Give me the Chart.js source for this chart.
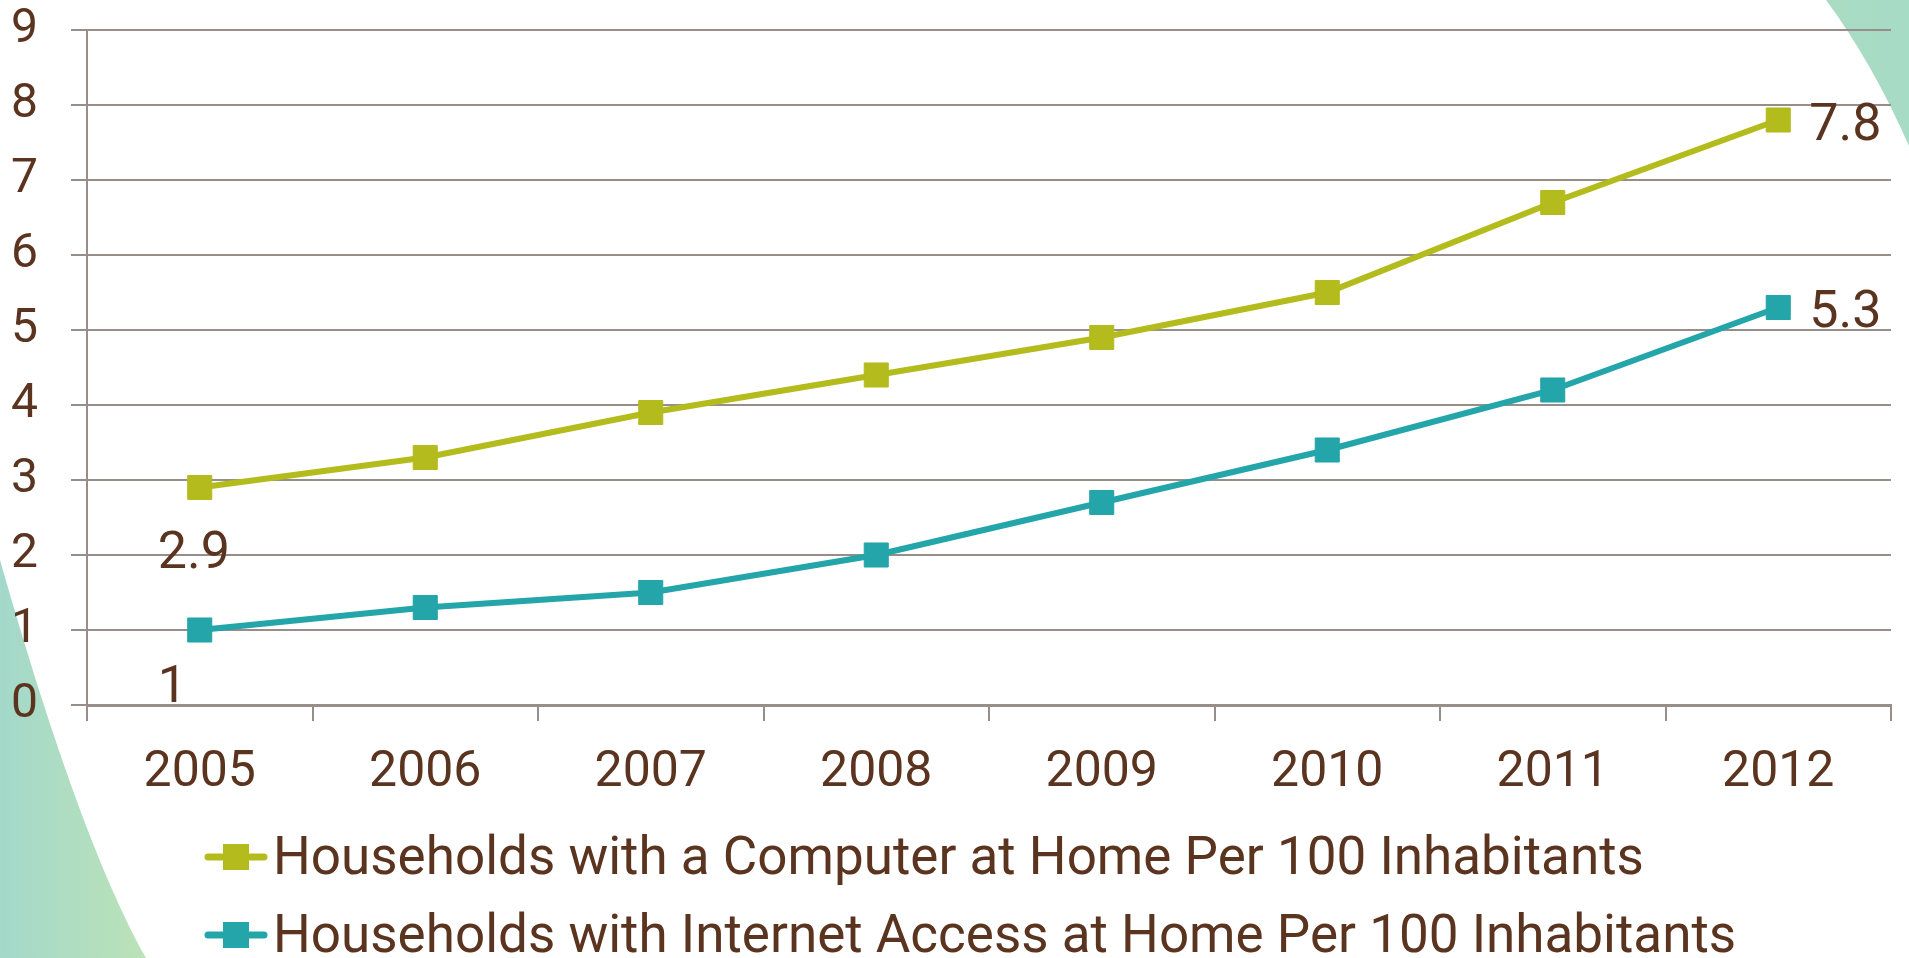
<!DOCTYPE html>
<html>
<head>
<meta charset="utf-8">
<title>Households with a Computer / Internet Access at Home</title>
<script src="https://cdn.jsdelivr.net/npm/chart.js@4.4.1/dist/chart.umd.min.js"></script>
<style>
  html, body { margin: 0; padding: 0; background: #fff; }
  #wrap { position: relative; width: 1909px; height: 958px; }
</style>
</head>
<body>
<div id="wrap"><canvas id="households"></canvas></div>
<script>
/* Households with a computer / internet access at home, per 100 inhabitants */
const years = ["2005", "2006", "2007", "2008", "2009", "2010", "2011", "2012"];
const computerAtHome = [2.9, 3.3, 3.9, 4.4, 4.9, 5.5, 6.7, 7.8];
const internetAtHome = [1, 1.3, 1.5, 2.0, 2.7, 3.4, 4.2, 5.3];
const seriesNames = [
  "Households with a Computer at Home Per 100 Inhabitants",
  "Households with Internet Access at Home Per 100 Inhabitants"
];
const yMin = 0, yMax = 9, yStep = 1;

const INK = "#5b3420";
const GRID = "#978e89";
const OLIVE = "#b3bc1c";
const TEAL = "#24a5aa";
const FONT = "Roboto";

Chart.defaults.font.family = FONT;
Chart.defaults.color = INK;

// slide decoration: soft green swooshes in the corners
const backdrop = {
  id: "backdrop",
  beforeDraw(chart) {
    const { ctx, width, height } = chart;
    ctx.save();
    let g = ctx.createLinearGradient(0, 0, 150, 0);
    g.addColorStop(0, "#a3d8ca");
    g.addColorStop(1, "#bce3b7");
    ctx.fillStyle = g;
    ctx.beginPath();
    ctx.moveTo(0, 560);
    ctx.bezierCurveTo(40, 700, 92, 862, 146, height);
    ctx.lineTo(0, height);
    ctx.closePath();
    ctx.fill();

    g = ctx.createLinearGradient(1820, 0, width, 0);
    g.addColorStop(0, "#aadcc2");
    g.addColorStop(1, "#a6dbc6");
    ctx.fillStyle = g;
    ctx.beginPath();
    ctx.moveTo(1826, 0);
    ctx.quadraticCurveTo(1872, 62, width, 146);
    ctx.lineTo(width, 0);
    ctx.closePath();
    ctx.fill();
    ctx.restore();
  }
};

// value labels on the first and last point of each line
const endLabels = {
  id: "endLabels",
  afterDatasetsDraw(chart) {
    const { ctx } = chart;
    const place = [
      { first: { dx: -42, dy: 80 }, last: { dx: 31, dy: 20 } },
      { first: { dx: -42, dy: 72 }, last: { dx: 31, dy: 19 } }
    ];
    ctx.save();
    ctx.font = "52px " + FONT;
    ctx.fillStyle = INK;
    ctx.textAlign = "left";
    ctx.textBaseline = "alphabetic";
    chart.data.datasets.forEach((ds, i) => {
      const pts = chart.getDatasetMeta(i).data;
      const n = ds.data.length - 1;
      [[0, place[i].first], [n, place[i].last]].forEach(([k, off]) => {
        ctx.fillText(String(ds.data[k]), pts[k].x + off.dx, pts[k].y + off.dy);
      });
    });
    ctx.restore();
  }
};

// legend rows: line with a square marker, then the series name
const lineLegend = {
  id: "lineLegend",
  afterDraw(chart) {
    const { ctx } = chart;
    ctx.save();
    chart.data.datasets.forEach((ds, i) => {
      const y = 857 + i * 78;
      ctx.strokeStyle = ds.borderColor;
      ctx.lineWidth = 7;
      ctx.lineCap = "round";
      ctx.beginPath();
      ctx.moveTo(208, y);
      ctx.lineTo(264, y);
      ctx.stroke();
      ctx.fillStyle = ds.borderColor;
      ctx.fillRect(223, y - 13, 26, 26);
      ctx.fillStyle = INK;
      ctx.font = "53px " + FONT;
      ctx.textBaseline = "alphabetic";
      ctx.fillText(ds.label, 273, y + 17);
    });
    ctx.restore();
  }
};

const series = (label, data, color) => ({
  label, data,
  borderColor: color, backgroundColor: color,
  borderWidth: 6, tension: 0,
  pointStyle: "rect", pointRadius: 17, pointBorderWidth: 1,
  pointBackgroundColor: color, pointBorderColor: color
});

new Chart(document.getElementById("households"), {
  type: "line",
  data: {
    labels: years,
    datasets: [
      series(seriesNames[0], computerAtHome, OLIVE),
      series(seriesNames[1], internetAtHome, TEAL)
    ]
  },
  options: {
    responsive: true,
    maintainAspectRatio: false,
    animation: false,
    layout: { padding: { top: 30, right: 12, left: 0, bottom: 0 } },
    plugins: { legend: { display: false }, tooltip: { enabled: false } },
    scales: {
      x: {
        offset: true,
        grid: { offset: true, drawOnChartArea: false, tickLength: 16, color: GRID, lineWidth: 2 },
        border: { color: GRID, width: 3 },
        ticks: { color: INK, font: { size: 50 }, padding: 22, maxRotation: 0 },
        afterFit(scale) { scale.height = 253; }
      },
      y: {
        min: yMin, max: yMax,
        ticks: { stepSize: yStep, color: INK, font: { size: 48 }, padding: 33 },
        grid: { color: GRID, lineWidth: 2, tickLength: 16 },
        border: { color: GRID, width: 2 },
        afterFit(scale) {
          scale.width = 87;
          // tick padding is only meant to push labels left, not to shrink the plot
          scale.paddingTop = 0;
          scale.paddingBottom = 0;
        }
      }
    }
  },
  plugins: [backdrop, endLabels, lineLegend]
});
</script>
</body>
</html>
